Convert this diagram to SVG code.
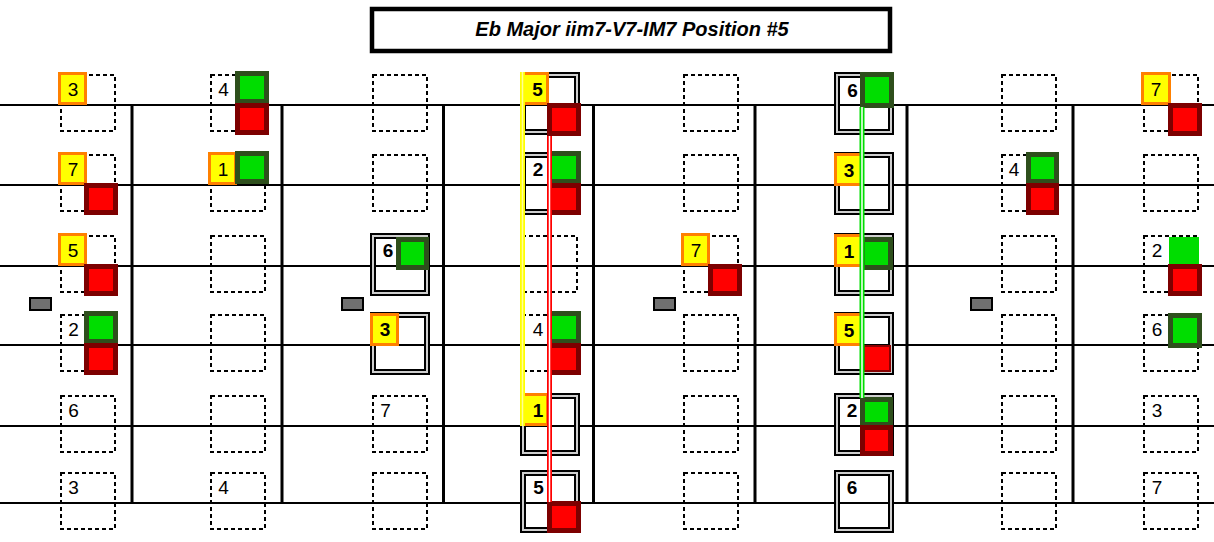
<svg xmlns="http://www.w3.org/2000/svg" width="1214" height="542" viewBox="0 0 1214 542">
<style>
.str{stroke:#000;stroke-width:2}
.fret{stroke:#000;stroke-width:3}
.dash{fill:none;stroke:#000;stroke-width:2;stroke-dasharray:4 3}
.dbo{fill:none;stroke:#000;stroke-width:2}
.dbg{fill:none;stroke:#cfcfcf;stroke-width:2}
.yel{fill:#ffff00;stroke:#ff8000;stroke-width:3}
.grn{fill:#00dd00;stroke:#2e4f1c;stroke-width:5}
.red{fill:#ff0000;stroke:#7d0000;stroke-width:5}
.mk{fill:#707070;stroke:#000;stroke-width:2}
.t{font-family:"Liberation Sans",Arial,sans-serif;font-size:19px;text-anchor:middle;fill:#000}
.b{font-weight:bold}
.ty{font-size:19px}
</style>
<rect width="1214" height="542" fill="#fff"/>
<g id="title">
<rect x="372" y="9" width="518" height="42" fill="#fff" stroke="#000" stroke-width="4.5"/>
<text x="632" y="36" font-family="Liberation Sans,Arial,sans-serif" font-size="20" font-weight="bold" font-style="italic" text-anchor="middle">Eb Major iim7-V7-IM7 Position #5</text>
</g>
<g id="strings">
<line class="str" x1="0" y1="105" x2="1214" y2="105"/>
<line class="str" x1="0" y1="185" x2="1214" y2="185"/>
<line class="str" x1="0" y1="266" x2="1214" y2="266"/>
<line class="str" x1="0" y1="345" x2="1214" y2="345"/>
<line class="str" x1="0" y1="426" x2="1214" y2="426"/>
<line class="str" x1="0" y1="503" x2="1214" y2="503"/>
</g>
<g id="frets">
<line class="fret" x1="132" y1="104" x2="132" y2="504"/>
<line class="fret" x1="282" y1="104" x2="282" y2="504"/>
<line class="fret" x1="443.5" y1="104" x2="443.5" y2="504"/>
<line class="fret" x1="593.5" y1="104" x2="593.5" y2="504"/>
<line class="fret" x1="755" y1="104" x2="755" y2="504"/>
<line class="fret" x1="907" y1="104" x2="907" y2="504"/>
<line class="fret" x1="1073" y1="104" x2="1073" y2="504"/>
</g>
<g id="markers">
<rect class="mk" x="30" y="298" width="21" height="12"/>
<rect class="mk" x="342" y="298" width="21" height="12"/>
<rect class="mk" x="654" y="298" width="21" height="12"/>
<rect class="mk" x="971" y="298" width="21" height="12"/>
</g>
<!-- Column 1 -->
<g id="c1r1"><rect class="dash" x="61" y="75" width="54" height="56"/><rect class="yel" x="59.5" y="73.5" width="26" height="30"/><text class="t ty" x="73" y="95.5">3</text></g>
<g id="c1r2"><rect class="dash" x="61" y="155" width="54" height="56"/><rect class="yel" x="59.5" y="153.5" width="26" height="30"/><rect class="red" x="86.5" y="185.5" width="29" height="27"/><text class="t ty" x="73" y="175.5">7</text></g>
<g id="c1r3"><rect class="dash" x="61" y="236" width="54" height="56"/><rect class="yel" x="59.5" y="234.5" width="26" height="30"/><rect class="red" x="86.5" y="266.5" width="29" height="27"/><text class="t ty" x="73" y="256.5">5</text></g>
<g id="c1r4"><rect class="dash" x="61" y="315" width="54" height="56"/><rect class="grn" x="86.5" y="313.5" width="29" height="28"/><rect class="red" x="86.5" y="345.5" width="29" height="27"/><text class="t" x="73.5" y="336">2</text></g>
<g id="c1r5"><rect class="dash" x="61" y="396" width="54" height="56"/><text class="t" x="73.5" y="417">6</text></g>
<g id="c1r6"><rect class="dash" x="61" y="473" width="54" height="56"/><text class="t" x="73.5" y="494">3</text></g>
<!-- Column 2 -->
<g id="c2r1"><rect class="dash" x="211" y="75" width="54" height="56"/><rect class="grn" x="237.5" y="73.5" width="29" height="28"/><rect class="red" x="237.5" y="105.5" width="29" height="27"/><text class="t" x="223.5" y="96">4</text></g>
<g id="c2r2"><rect class="dash" x="211" y="155" width="54" height="56"/><rect class="yel" x="209.5" y="153.5" width="26" height="30"/><rect class="grn" x="237.5" y="153.5" width="29" height="28"/><text class="t ty" x="223" y="175.5">1</text></g>
<g id="c2r3"><rect class="dash" x="211" y="236" width="54" height="56"/></g>
<g id="c2r4"><rect class="dash" x="211" y="315" width="54" height="56"/></g>
<g id="c2r5"><rect class="dash" x="211" y="396" width="54" height="56"/></g>
<g id="c2r6"><rect class="dash" x="211" y="473" width="54" height="56"/><text class="t" x="223.5" y="494">4</text></g>
<!-- Column 3 -->
<g id="c3r1"><rect class="dash" x="373" y="75" width="54" height="56"/></g>
<g id="c3r2"><rect class="dash" x="373" y="155" width="54" height="56"/></g>
<g id="c3r3"><rect class="dbo" x="371" y="234" width="58" height="61"/><rect class="dbg" x="373" y="236" width="54" height="57"/><rect class="dbo" x="375" y="238" width="50" height="53"/><rect class="grn" x="398.5" y="239.5" width="28" height="28"/><text class="t b" x="388" y="257">6</text></g>
<g id="c3r4"><rect class="dbo" x="371" y="313" width="58" height="61"/><rect class="dbg" x="373" y="315" width="54" height="57"/><rect class="dbo" x="375" y="317" width="50" height="53"/><rect class="yel" x="371.5" y="314.5" width="26" height="30"/><text class="t b ty" x="385" y="336">3</text></g>
<g id="c3r5"><rect class="dash" x="373" y="396" width="54" height="56"/><text class="t" x="385.5" y="417">7</text></g>
<g id="c3r6"><rect class="dash" x="373" y="473" width="54" height="56"/></g>
<!-- Column 4 -->
<g id="c4r1"><rect class="dbo" x="521" y="73" width="58" height="61"/><rect class="dbg" x="523" y="75" width="54" height="57"/><rect class="dbo" x="525" y="77" width="50" height="53"/><rect class="yel" x="521.5" y="73.5" width="26" height="30"/><rect class="red" x="549.5" y="105.5" width="29" height="28"/><text class="t b ty" x="537.5" y="95.5">5</text></g>
<g id="c4r2"><rect class="dbo" x="521" y="153" width="58" height="61"/><rect class="dbg" x="523" y="155" width="54" height="57"/><rect class="dbo" x="525" y="157" width="50" height="53"/><rect class="grn" x="549.5" y="153.5" width="29" height="28"/><rect class="red" x="549.5" y="185.5" width="29" height="27"/><text class="t b" x="538" y="176">2</text></g>
<g id="c4r3"><rect class="dash" x="522" y="236" width="55" height="56"/></g>
<g id="c4r4"><rect class="dash" x="522" y="315" width="55" height="56"/><rect class="grn" x="549.5" y="313.5" width="29" height="28"/><rect class="red" x="549.5" y="345.5" width="29" height="27"/><text class="t" x="538" y="336">4</text></g>
<g id="c4r5"><rect class="dbo" x="521" y="394" width="58" height="61"/><rect class="dbg" x="523" y="396" width="54" height="57"/><rect class="dbo" x="525" y="398" width="50" height="53"/><rect class="yel" x="521.5" y="394.5" width="26" height="30"/><text class="t b ty" x="538" y="416.5">1</text></g>
<g id="c4r6"><rect class="dbo" x="521" y="471" width="58" height="61"/><rect class="dbg" x="523" y="473" width="54" height="57"/><rect class="dbo" x="525" y="475" width="50" height="53"/><rect class="red" x="549.5" y="503.5" width="29" height="27"/><text class="t b" x="538.5" y="494">5</text></g>
<!-- Column 5 -->
<g id="c5r1"><rect class="dash" x="684" y="75" width="54" height="56"/></g>
<g id="c5r2"><rect class="dash" x="684" y="155" width="54" height="56"/></g>
<g id="c5r3"><rect class="dash" x="684" y="236" width="54" height="56"/><rect class="yel" x="682.5" y="234.5" width="26" height="30"/><rect class="red" x="710.5" y="266.5" width="29" height="27"/><text class="t ty" x="696" y="256.5">7</text></g>
<g id="c5r4"><rect class="dash" x="684" y="315" width="54" height="56"/></g>
<g id="c5r5"><rect class="dash" x="684" y="396" width="54" height="56"/></g>
<g id="c5r6"><rect class="dash" x="684" y="473" width="54" height="56"/></g>
<!-- Column 6 -->
<g id="c6r1"><rect class="dbo" x="835" y="73" width="58" height="61"/><rect class="dbg" x="837" y="75" width="54" height="57"/><rect class="dbo" x="839" y="77" width="50" height="53"/><rect class="grn" x="862.5" y="74.5" width="29" height="31"/><text class="t b" x="852.5" y="96.5">6</text></g>
<g id="c6r2"><rect class="dbo" x="835" y="153" width="58" height="61"/><rect class="dbg" x="837" y="155" width="54" height="57"/><rect class="dbo" x="839" y="157" width="50" height="53"/><rect class="yel" x="835.5" y="154.5" width="26" height="30"/><text class="t b ty" x="849" y="176.5">3</text></g>
<g id="c6r3"><rect class="dbo" x="835" y="234" width="58" height="61"/><rect class="dbg" x="837" y="236" width="54" height="57"/><rect class="dbo" x="839" y="238" width="50" height="53"/><rect class="yel" x="835.5" y="235.5" width="26" height="30"/><rect class="grn" x="862.5" y="239.5" width="28" height="28"/><text class="t b ty" x="849" y="257.5">1</text></g>
<g id="c6r4"><rect class="dbo" x="835" y="313" width="58" height="61"/><rect class="dbg" x="837" y="315" width="54" height="57"/><rect class="dbo" x="839" y="317" width="50" height="53"/><rect class="yel" x="835.5" y="314.5" width="26" height="30"/><rect x="864" y="346" width="26" height="25" fill="#ff0000" stroke="#8a0000" stroke-width="2"/><text class="t b ty" x="849" y="336.5">5</text></g>
<g id="c6r5"><rect class="dbo" x="835" y="394" width="58" height="61"/><rect class="dbg" x="837" y="396" width="54" height="57"/><rect class="dbo" x="839" y="398" width="50" height="53"/><rect class="grn" x="862.5" y="399.5" width="28" height="25"/><rect class="red" x="862.5" y="427.5" width="28" height="26"/><text class="t b" x="852" y="417">2</text></g>
<g id="c6r6"><rect class="dbo" x="835" y="471" width="58" height="61"/><rect class="dbg" x="837" y="473" width="54" height="57"/><rect class="dbo" x="839" y="475" width="50" height="53"/><text class="t b" x="852" y="494">6</text></g>
<!-- Column 7 -->
<g id="c7r1"><rect class="dash" x="1002" y="75" width="54" height="56"/></g>
<g id="c7r2"><rect class="dash" x="1002" y="155" width="54" height="56"/><rect class="grn" x="1028.5" y="154.5" width="28" height="27"/><rect class="red" x="1028.5" y="185.5" width="28" height="27"/><text class="t" x="1014" y="176">4</text></g>
<g id="c7r3"><rect class="dash" x="1002" y="236" width="54" height="56"/></g>
<g id="c7r4"><rect class="dash" x="1002" y="315" width="54" height="56"/></g>
<g id="c7r5"><rect class="dash" x="1002" y="396" width="54" height="56"/></g>
<g id="c7r6"><rect class="dash" x="1002" y="473" width="54" height="56"/></g>
<!-- Column 8 -->
<g id="c8r1"><rect class="dash" x="1144" y="75" width="54" height="56"/><rect class="yel" x="1142.5" y="73.5" width="27" height="30"/><rect class="red" x="1170.5" y="105.5" width="29" height="28"/><text class="t ty" x="1156" y="95.5">7</text></g>
<g id="c8r2"><rect class="dash" x="1144" y="155" width="54" height="56"/></g>
<g id="c8r3"><rect class="dash" x="1144" y="236" width="54" height="56"/><rect x="1169" y="237" width="30" height="28" fill="#00dd00"/><rect class="red" x="1170.5" y="266.5" width="29" height="27"/><text class="t" x="1157" y="257">2</text></g>
<g id="c8r4"><rect class="dash" x="1144" y="315" width="54" height="56"/><rect class="grn" x="1170.5" y="315.5" width="29" height="30"/><text class="t" x="1157" y="336">6</text></g>
<g id="c8r5"><rect class="dash" x="1144" y="396" width="54" height="56"/><text class="t" x="1157" y="417">3</text></g>
<g id="c8r6"><rect class="dash" x="1144" y="473" width="54" height="56"/><text class="t" x="1157" y="494">7</text></g>
<g id="connectors">
<line x1="522.5" y1="72" x2="522.5" y2="426" stroke="#ffff00" stroke-width="5"/>
<line x1="522.5" y1="72" x2="522.5" y2="426" stroke="#ffff99" stroke-width="1.5"/>
<line x1="549.5" y1="136" x2="549.5" y2="502" stroke="#ff0000" stroke-width="5"/>
<line x1="549.5" y1="136" x2="549.5" y2="502" stroke="#fff" stroke-width="1.5"/>
<line x1="862" y1="107" x2="862" y2="398" stroke="#00dd00" stroke-width="5"/>
<line x1="862" y1="107" x2="862" y2="398" stroke="#fff" stroke-width="1.5"/>
</g>
</svg>
